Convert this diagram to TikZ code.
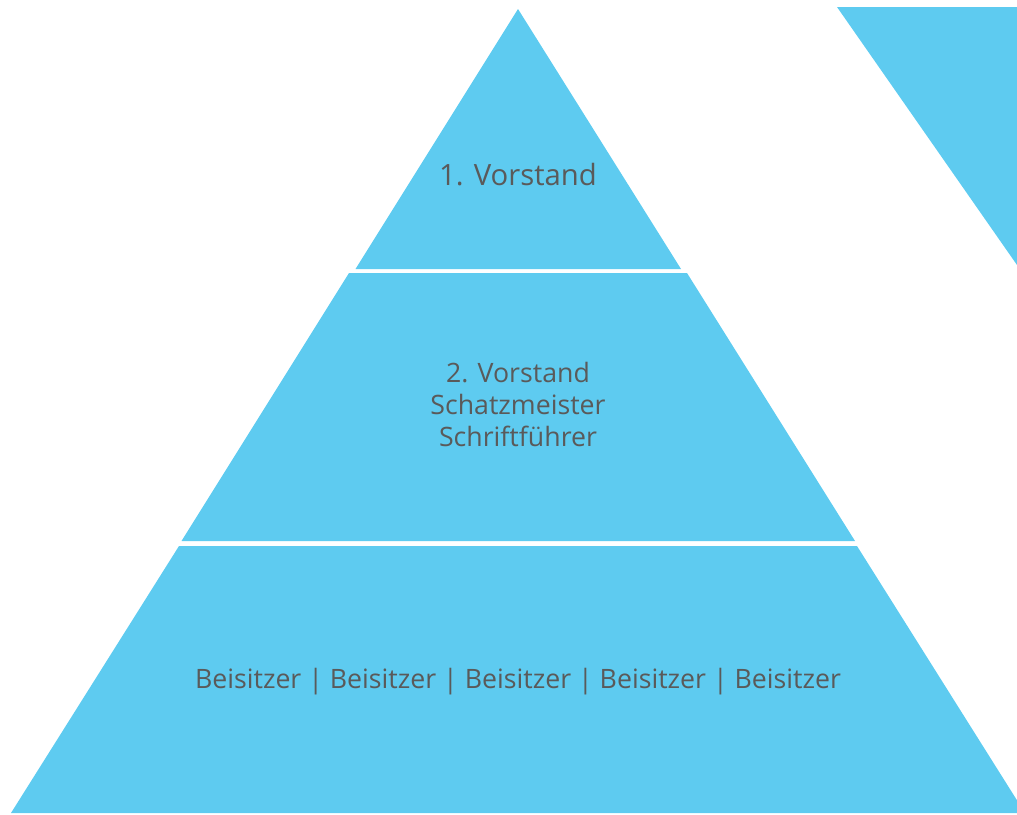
\documentclass[tikz,border=0pt]{standalone}
\usepackage{fontspec}
\setmainfont{Open Sans}
\usepackage{xcolor}
\definecolor{pyrblue}{RGB}{94,203,240}
\definecolor{pyrtext}{RGB}{90,90,90}
\usetikzlibrary{positioning, calc}
\tikzset{%
  band/.style={fill=pyrblue, draw=none},
  label big/.style={text=pyrtext, inner sep=0pt, anchor=base,
    font=\fontsize{29.3}{36}\selectfont},
  label small/.style={text=pyrtext, inner sep=0pt, anchor=base, align=center,
    font=\fontsize{26.7}{32}\selectfont}
}
\begin{document}
\begin{tikzpicture}[x=1pt, y=-1pt]
  \useasboundingbox (0,0) rectangle (1017,814);
  \clip (0,0) rectangle (1017,814);

  % pyramid levels
  \fill[band] (518,9) -- (681,269) -- (355.5,269) -- cycle;
  \fill[band] (349,273) -- (687,273) -- (855,541) -- (181.5,541) -- cycle;
  \fill[band] (179,546) -- (857,546) -- (1025,813) -- (11,813) -- cycle;

  % corner piece
  \fill[band] (837,7) -- (1017,7) -- (1017,265) -- cycle;

  \node[label big] (vorstand) at (518,185) {1. Vorstand};
  % base of a multi-line node sits on its last line
  \node[label small] (mitte) at (518,446) {2. Vorstand\\Schatzmeister\\Schriftführer};
  \node[label small] (beisitzer) at (518,688)
    {Beisitzer | Beisitzer | Beisitzer | Beisitzer | Beisitzer};
\end{tikzpicture}
\end{document}
